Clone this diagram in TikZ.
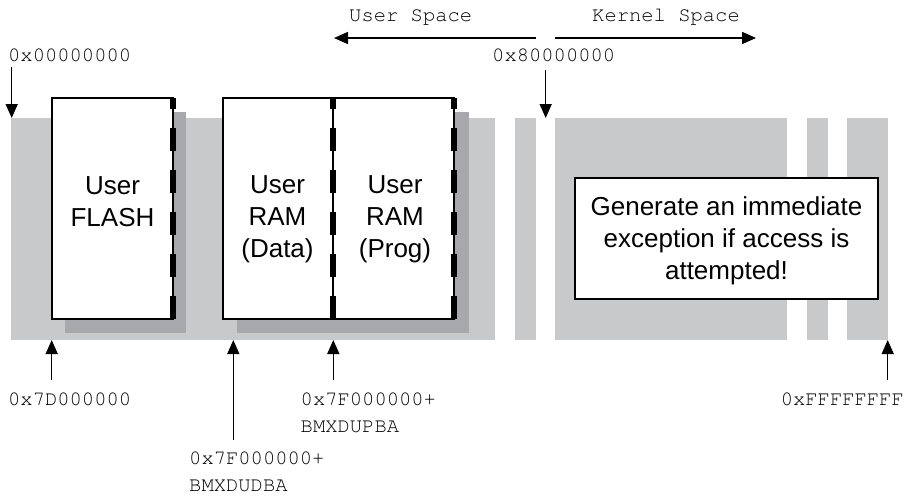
\documentclass[tikz,border=0pt]{standalone}
\usepackage[T1,TU]{fontenc}
\usepackage{fontspec}
\setmainfont{Liberation Sans}
\setmonofont{Liberation Mono}
\usetikzlibrary{arrows.meta}
\newcommand\courierfont{\fontencoding{T1}\fontfamily{pcr}\selectfont}
\definecolor{bandgray}{RGB}{200,201,203}
\definecolor{shadowgray}{RGB}{167,168,171}
\tikzset{
  band/.style={fill=bandgray, draw=none},
  shadowbox/.style={fill=shadowgray, draw=none},
  membox/.style={draw=black, fill=white, line width=1.6pt, inner sep=0pt, outer sep=0pt, anchor=north west},
  thickdash/.style={line width=6pt, dash pattern=on 23pt off 19pt},
  addr/.style={font=\courierfont\fontsize{20.5}{27}\selectfont, inner sep=0pt},
  boxtext/.style={font=\fontsize{26}{32}\selectfont, inner sep=0pt, anchor=base},
  ptr/.style={line width=1.5pt, -{Triangle[length=14pt,width=12pt]}},
}
\begin{document}
\begin{tikzpicture}[x=1pt,y=-1pt]
\useasboundingbox (0,0) rectangle (911,496);
% memory map bands
\fill[band] (11,118) rectangle (495,340);
\fill[band] (515,118) rectangle (536,340);
\fill[band] (555,118) rectangle (787,340);
\fill[band] (807,118) rectangle (828,340);
\fill[band] (847,118) rectangle (888,340);
% shadows
\fill[shadowbox] (65,112) rectangle (186,333);
\fill[shadowbox] (237,112) rectangle (469,333);
% boxes
\node[membox, minimum width=121pt, minimum height=221pt] (flash) at (52,98) {};
\node[membox, minimum width=110pt, minimum height=221pt] (data) at (223,98) {};
\node[membox, minimum width=121pt, minimum height=221pt] (prog) at (333,98) {};
\draw[thickdash] (flash.south east) -- (flash.north east);
\draw[thickdash] (data.south east) -- (data.north east);
\draw[thickdash] (prog.south east) -- (prog.north east);
\node[boxtext] (flashtxt) at (112.5,194) {\begin{tabular}[t]{@{}c@{}}User\\FLASH\end{tabular}};
\node[boxtext] (datatxt) at (277.5,193.5) {\begin{tabular}[t]{@{}c@{}}User\\RAM\\(Data)\end{tabular}};
\node[boxtext] (progtxt) at (395,193.5) {\begin{tabular}[t]{@{}c@{}}User\\RAM\\(Prog)\end{tabular}};
% exception box
\node[membox, minimum width=303pt, minimum height=121pt] (exc) at (575,178) {};
\node[boxtext] (exctxt) at (726.5,215) {\begin{tabular}[t]{@{}c@{}}Generate an immediate\\exception if access is\\attempted!\end{tabular}};
% top labels
\node[addr, anchor=base west] (userspace) at (349,21.5) {User Space};
\node[addr, anchor=base west] (kernelspace) at (592,21.5) {Kernel Space};
\coordinate (us0) at (536,38);
\coordinate (us1) at (334,38);
\coordinate (ks0) at (555,38);
\coordinate (ks1) at (756,38);
\draw[ptr] (us0) -- (us1);
\draw[ptr] (ks0) -- (ks1);
\node[addr, anchor=base west] (a0) at (8,61.5) {0x00000000};
\coordinate (a0s) at (11.7,67);
\coordinate (a0e) at (11.7,118);
\draw[ptr] (a0s) -- (a0e);
\node[addr, anchor=base west] (a8) at (492,61.5) {0x80000000};
\coordinate (a8s) at (545.7,70);
\coordinate (a8e) at (545.7,118);
\draw[ptr] (a8s) -- (a8e);
% bottom labels
\node[addr, anchor=base west] (a7d) at (8,405) {0x7D000000};
\coordinate (a7ds) at (51.7,380);
\coordinate (a7de) at (51.7,340);
\draw[ptr] (a7ds) -- (a7de);
\node[addr, anchor=base west] (adata) at (189,464) {\begin{tabular}[t]{@{}l@{}}0x7F000000+\\BMXDUDBA\end{tabular}};
\coordinate (adatas) at (233.3,440);
\coordinate (adatae) at (233.3,340);
\draw[ptr] (adatas) -- (adatae);
\node[addr, anchor=base west] (aprog) at (300.5,405.5) {\begin{tabular}[t]{@{}l@{}}0x7F000000+\\BMXDUPBA\end{tabular}};
\coordinate (aprogs) at (333.3,380);
\coordinate (aproge) at (333.3,340);
\draw[ptr] (aprogs) -- (aproge);
\node[addr, anchor=base east] (aff) at (904,405) {0xFFFFFFFF};
\coordinate (affs) at (887.7,380);
\coordinate (affe) at (887.7,340);
\draw[ptr] (affs) -- (affe);
\end{tikzpicture}
\end{document}
